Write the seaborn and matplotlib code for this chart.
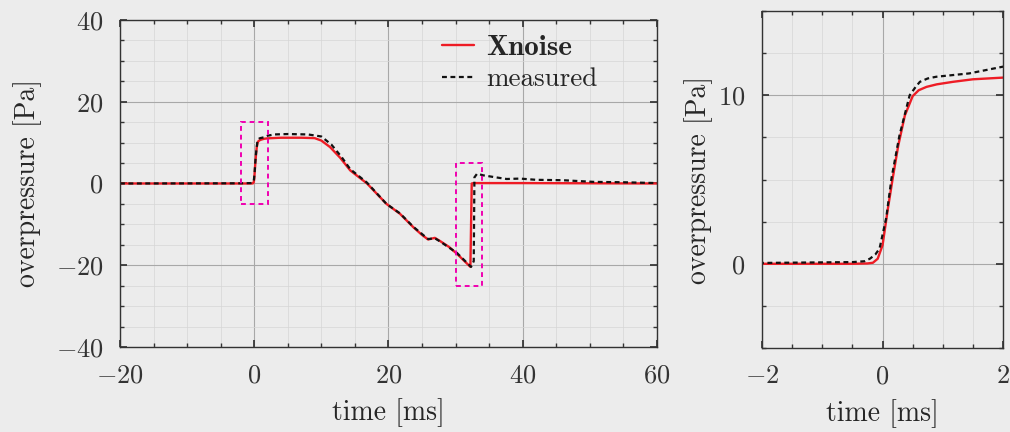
import numpy as np
import pandas as pd
import matplotlib
matplotlib.use("Agg")
import matplotlib.pyplot as plt
from matplotlib.ticker import MultipleLocator
from matplotlib.patches import Rectangle
import seaborn as sns

# ---- data ----
xnoise_t = [-20, -2, -0.5, -0.25, -0.16, -0.08, 0.0, 0.09, 0.17, 0.26, 0.37, 0.5, 0.6, 0.73, 0.9,
            1.17, 1.5, 2.0, 4, 7, 9,
            10, 11.3, 12.8, 14.3, 16.8, 19.7, 21.7, 23.7, 25.0, 25.9, 26.9, 27.7, 29, 30.2, 31.2,
            32.2, 32.4, 32.7, 35, 40, 50, 60]
xnoise_v = [0, 0, 0, 0.02, 0.06, 0.3, 1.1, 3.3, 5.1, 7.0, 8.8, 9.95, 10.3, 10.5, 10.65,
            10.8, 10.95, 11.05, 11.2, 11.2, 11.1,
            10.5, 8.9, 6.3, 3.2, 0.0, -5.0, -7.4, -10.7, -12.6, -13.7, -13.3, -14.1, -15.5, -17.2, -18.8,
            -20.4, 0.0, 0.1, 0.1, 0.1, 0.05, 0.0]

meas_t = [-20, -2, -0.5, -0.3, -0.21, -0.12, -0.05, 0.06, 0.15, 0.28, 0.45, 0.55, 0.62, 0.75, 0.89,
          1.44, 2.0, 3, 5, 8,
          10, 11.5, 13, 14.3, 16.8, 19.7, 21.7, 23.7, 25.9, 26.9, 27.7, 30.2, 32.3, 32.7, 32.8,
          33.2, 34.1, 36, 37.6, 39.6, 42, 46, 50.5, 55, 60]
meas_v = [0, 0.05, 0.1, 0.15, 0.3, 0.55, 0.9, 2.7, 5.1, 7.6, 10.0, 10.5, 10.8, 11.0, 11.1,
          11.3, 11.7, 12.0, 12.1, 12.0,
          11.5, 9.5, 6.5, 3.5, 0.2, -5.0, -7.3, -10.6, -13.6, -13.4, -14.2, -17.0, -20.4, -19.0, 1.5,
          2.4, 2.0, 1.5, 1.1, 1.2, 0.9, 0.8, 0.4, 0.3, 0.1]

# zoom boxes: (t0, t1, v0, v1)
zoom_boxes = [(-2, 2, -5, 15), (30, 34, -25, 5)]

df_x = pd.DataFrame({"t": xnoise_t, "v": xnoise_v})
df_m = pd.DataFrame({"t": meas_t, "v": meas_v})

# ---- style ----
sns.set_theme(style="ticks")
bg = "#ececec"
plt.rcParams.update({
    "font.family": ["cmr10", "DejaVu Serif"],
    "mathtext.fontset": "cm",
    "axes.formatter.use_mathtext": True,
    "font.size": 19,
    "axes.labelsize": 20,
    "xtick.labelsize": 19,
    "ytick.labelsize": 19,
    "axes.edgecolor": "#333333",
    "axes.linewidth": 1.0,
    "xtick.direction": "in",
    "ytick.direction": "in",
    "xtick.top": True,
    "ytick.right": True,
    "xtick.major.size": 5,
    "ytick.major.size": 5,
    "xtick.minor.size": 3,
    "ytick.minor.size": 3,
    "xtick.color": "#333333",
    "ytick.color": "#333333",
    "xtick.major.pad": 12,
    "ytick.major.pad": 12,
})

fig = plt.figure(figsize=(10.10, 4.32), dpi=100, facecolor=bg)
ax1 = fig.add_axes([0.1188, 0.1968, 0.5317, 0.7569])
ax2 = fig.add_axes([0.7545, 0.1944, 0.2386, 0.7800])

red = "#ee1c25"
mag = "#f000b0"
dash = (0, (2.2, 1.6))

for ax in (ax1, ax2):
    ax.set_facecolor(bg)
    ax.set_axisbelow(True)
    ax.grid(which="major", color="#a8a8a8", lw=0.8)
    ax.grid(which="minor", color="#d6d6d6", lw=0.5)
    sns.lineplot(data=df_x, x="t", y="v", ax=ax, color=red, lw=1.7, sort=False,
                 estimator=None, label="Xnoise", legend=False)
    sns.lineplot(data=df_m, x="t", y="v", ax=ax, color="#111111", lw=1.6, sort=False,
                 estimator=None, label="measured", legend=False, linestyle=dash)
    ax.tick_params(which="both", top=True, right=True, direction="in")

# left panel
ax1.set_xlim(-20, 60)
ax1.set_ylim(-40, 40)
ax1.xaxis.set_major_locator(MultipleLocator(20))
ax1.xaxis.set_minor_locator(MultipleLocator(5))
ax1.yaxis.set_major_locator(MultipleLocator(20))
ax1.yaxis.set_minor_locator(MultipleLocator(5))
ax1.set_xlabel("time [ms]", labelpad=8)
ax1.set_ylabel("overpressure [Pa]", labelpad=10)

for (t0, t1, v0, v1) in zoom_boxes:
    ax1.add_patch(Rectangle((t0, v0), t1 - t0, v1 - v0, fill=False, ec=mag,
                            lw=1.4, ls=(0, (2.5, 2.0)), zorder=5))

leg = ax1.legend(loc="upper left", bbox_to_anchor=(0.555, 1.03), frameon=False,
                 handlelength=1.15, handletextpad=0.45, labelspacing=0.25, fontsize=19.5)
t0 = leg.get_texts()[0]
t0.set_fontfamily(["cmb10", "DejaVu Serif"])
t0.set_fontsize(21)

# right panel
ax2.set_xlim(-2, 2)
ax2.set_ylim(-5, 15)
ax2.xaxis.set_major_locator(MultipleLocator(2))
ax2.xaxis.set_minor_locator(MultipleLocator(0.5))
ax2.yaxis.set_major_locator(MultipleLocator(10))
ax2.yaxis.set_minor_locator(MultipleLocator(2.5))
ax2.set_xlabel("time [ms]", labelpad=8)
ax2.set_ylabel("overpressure [Pa]", labelpad=4)

fig.savefig("out.png", dpi=100, facecolor=bg)
